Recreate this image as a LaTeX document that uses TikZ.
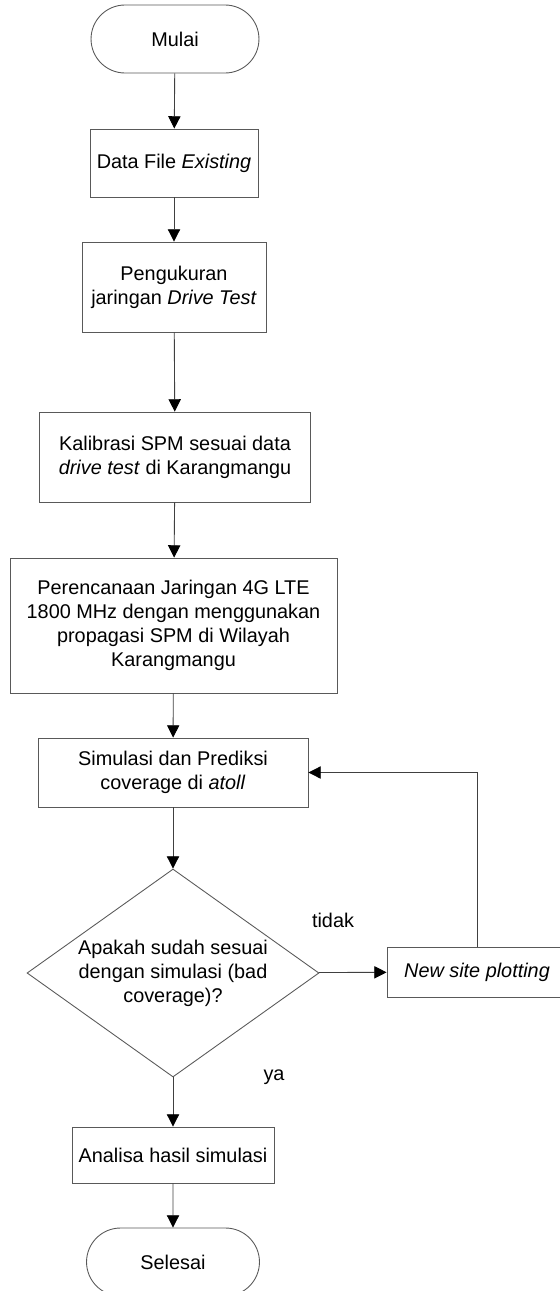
\documentclass[tikz,border=0pt]{standalone}
\usepackage{fontspec}
\setmainfont{Liberation Sans}
\usepackage{tikz}
\usetikzlibrary{arrows.meta, shapes.geometric, shapes.misc}

\tikzset{
	base/.style = {draw=black!65, line width=0.5pt, align=center, inner sep=2pt,
		font=\fontsize{11.3pt}{13.7pt}\selectfont},
	terminal/.style = {base, rounded rectangle},
	process/.style = {base, rectangle},
	decision/.style = {base, diamond, aspect=1.4, inner sep=0pt},
	flow/.style = {draw=black!75, line width=0.5pt, -{Triangle[length=7pt, width=7pt, color=black, fill=black]}},
	note/.style = {font=\fontsize{11.3pt}{13.7pt}\selectfont}
}

\begin{document}
\begin{tikzpicture}[x=0.02cm, y=-0.02cm]
	\useasboundingbox (0, 0) rectangle (559, 1291);
	% Nodes:
	\node[terminal, minimum width=3.5cm, minimum height=1.36cm] (mulai) at (175, 39) {Mulai};
	\node[process, minimum width=3.36cm, minimum height=1.36cm] (datafile) at (174, 163) {Data File \textit{Existing}};
	\node[process, minimum width=3.68cm, minimum height=1.8cm] (ukur) at (174, 287) {Pengukuran\\jaringan \textit{Drive Test}};
	\node[process, minimum width=5.42cm, minimum height=1.8cm] (kalibrasi) at (175, 457) {Kalibrasi SPM sesuai data\\\textit{drive test} di Karangmangu};
	\node[process, minimum width=6.54cm, minimum height=2.7cm] (rencana) at (173.5, 625.5) {Perencanaan Jaringan 4G LTE\\1800 MHz dengan menggunakan\\propagasi SPM di Wilayah\\Karangmangu};
	\node[process, minimum width=5.4cm, minimum height=1.38cm] (simulasi) at (173, 772.5) {Simulasi dan Prediksi\\coverage di \textit{atoll}};
	\node[decision, minimum width=5.84cm, minimum height=4.16cm] (cek) at (173, 973) {Apakah sudah sesuai\\dengan simulasi (bad\\coverage)?};
	\node[process, minimum width=3.6cm, minimum height=1.0cm] (newsite) at (477, 972) {\textit{New site plotting}};
	\node[process, minimum width=4.04cm, minimum height=1.12cm] (analisa) at (173, 1155) {Analisa hasil simulasi};
	\node[terminal, minimum width=3.6cm, minimum height=1.36cm] (selesai) at (173, 1262) {Selesai};
	\node[note] (tidak) at (333, 920) {tidak};
	\node[note] (ya) at (274, 1077) {ya};

	% Paths:
	\draw[flow] (mulai) -- (datafile);
	\draw[flow] (datafile) -- (ukur);
	\draw[flow] (ukur) -- (kalibrasi);
	\draw[flow] (kalibrasi) -- (rencana);
	\draw[flow] (rencana) -- (simulasi);
	\draw[flow] (simulasi) -- (cek);
	\draw[flow] (cek) -- (newsite);
	\draw[flow] (newsite.north) |- (simulasi.east);
	\draw[flow] (cek) -- (analisa);
	\draw[flow] (analisa) -- (selesai);
\end{tikzpicture}
\end{document}
